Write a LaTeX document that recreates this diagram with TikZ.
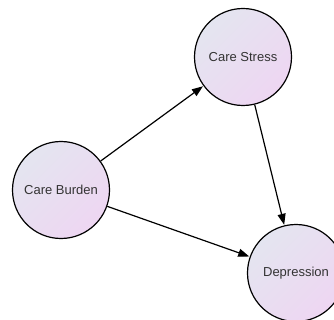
\documentclass[tikz,border=0pt]{standalone}
\usepackage{fontspec}
\setmainfont{Liberation Sans}
\usetikzlibrary{arrows.meta}
\definecolor{topc}{HTML}{E4E5F0}
\definecolor{botc}{HTML}{EED6F2}
\definecolor{txt}{HTML}{333333}
\tikzset{
  var/.style={circle, draw=black, line width=1.2pt, minimum size=97pt, inner sep=0pt,
    top color=topc, bottom color=botc, shading angle=45,
    font=\fontsize{13}{15}\selectfont, text=txt},
  link/.style={line width=1.2pt, -{Triangle[length=11pt,width=8pt]}, shorten >=0.5pt}
}
\begin{document}
\begin{tikzpicture}[x=1pt,y=-1pt]
\useasboundingbox (0,0) rectangle (334,320);
\node[var] (stress) at (243,57) {Care Stress};
\node[var] (burden) at (61,190) {Care Burden};
\node[var] (dep) at (296,273) {Depression};
\draw[link] (burden) -- (stress);
\draw[link] (stress) -- (dep);
\draw[link] (burden) -- (dep);
\end{tikzpicture}
\end{document}
